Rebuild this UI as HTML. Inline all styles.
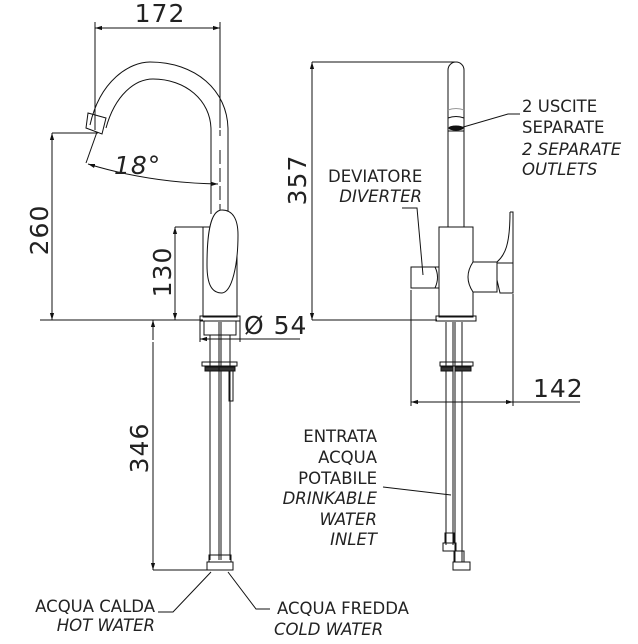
<!DOCTYPE html>
<html><head><meta charset="utf-8"><style>
html,body{margin:0;padding:0;background:#fff;}
svg{display:block;}
text{font-family:"DejaVu Sans","Liberation Sans",sans-serif;fill:#222;}
.l{font-size:16.5px;}
.i{font-style:italic;}
.d{font-size:25px;letter-spacing:1px;}
</style></head><body>
<svg width="638" height="644" viewBox="0 0 638 644" xmlns="http://www.w3.org/2000/svg">
<defs>
<marker id="a" viewBox="0 0 10 10" refX="10" refY="5" markerWidth="7" markerHeight="7" orient="auto-start-reverse"><path d="M0,2 L10,5 L0,8 z" fill="#111"/></marker>
</defs>
<g fill="none" stroke="#111" stroke-width="1">
<line x1="95" y1="28" x2="220" y2="28" marker-start="url(#a)" marker-end="url(#a)"/>
<line x1="95" y1="22" x2="95" y2="130"/>
<line x1="220" y1="22" x2="220" y2="128"/>
<path d="M90,125 C100,80 130,62 150,62 C195,62 228,90 228,130 L228,214"/>
<path d="M106,128 C115,95 135,79 153,79 C185,79 211,100 211,130 L211,214"/>
<path d="M88,113 L106,118 L102,134 L86,128 Z"/>
<line x1="220" y1="130" x2="220" y2="140" stroke-dasharray="6,4"/>
<line x1="220" y1="150" x2="220" y2="232" stroke-dasharray="14,4"/>
<line x1="97" y1="132" x2="86" y2="163"/>
<path d="M88,164 Q150,183 218,184" marker-start="url(#a)" marker-end="url(#a)"/>
<rect x="203" y="227" width="34" height="90"/>
<path d="M222,210 C232,210 238,218 238,235 C238,265 232,292 222,293 C212,293 207,285 207,265 C207,235 210,210 222,210 Z" fill="#fff"/>
<rect x="200" y="316" width="40" height="5"/>
<line x1="52" y1="133" x2="52" y2="320" marker-start="url(#a)" marker-end="url(#a)"/>
<line x1="52" y1="133" x2="98" y2="133"/>
<line x1="40" y1="320" x2="203" y2="320"/>
<line x1="175" y1="227" x2="175" y2="320" marker-start="url(#a)" marker-end="url(#a)"/>
<line x1="175" y1="227" x2="205" y2="227"/>
<line x1="200" y1="321" x2="200" y2="342"/>
<line x1="240" y1="321" x2="240" y2="342"/>
<line x1="200" y1="339" x2="300" y2="339" marker-start="url(#a)"/>
<line x1="153" y1="340" x2="153" y2="320" marker-end="url(#a)"/>
<rect x="204" y="321" width="32" height="14"/>
<line x1="210" y1="335" x2="210" y2="560"/><line x1="219" y1="322" x2="219" y2="560"/>
<line x1="221" y1="322" x2="221" y2="560"/><line x1="230" y1="335" x2="230" y2="560"/>
<rect x="202" y="362" width="35" height="4"/>
<path d="M205,367 h14 v4 h-14 z M219,367 h16 v4 h-16 z" fill="#333"/>
<rect x="229" y="371" width="4" height="30"/>
<rect x="209" y="555" width="22" height="7"/>
<rect x="207" y="562" width="26" height="8"/>
<line x1="153" y1="342" x2="153" y2="570" marker-end="url(#a)"/>
<line x1="153" y1="570" x2="209" y2="570"/>
<polyline points="211,572 173,612 158,612"/>
<polyline points="228,572 256,609 270,609"/>

<line x1="312" y1="62" x2="312" y2="320" marker-start="url(#a)" marker-end="url(#a)"/>
<line x1="312" y1="62" x2="455" y2="62"/>
<line x1="312" y1="320" x2="437" y2="320"/>
<path d="M448,227 L448,70 A8,8 0 0 1 464,70 L464,227"/>
<path d="M448,110 Q456,107 464,110" stroke="#999"/>
<path d="M448,118 Q456,115 464,118"/>
<ellipse cx="456" cy="128" rx="7" ry="2" fill="#111"/>
<line x1="448" y1="131" x2="464" y2="131"/>
<rect x="439" y="227" width="34" height="90"/>
<rect x="436" y="316" width="40" height="5"/>
<rect x="411" y="267" width="28" height="21" fill="#fff"/>
<path d="M435,267 Q440,277 435,288"/>
<path d="M473,262 L497,262 L497,292 L473,292 Q463,277 473,262 Z" fill="#fff"/>
<path d="M497,263 L513,263 L513,293 L500,293 L497,280"/>
<path d="M510,212 L513,212 L513,263"/>
<path d="M510,212 C510,245 505,255 497,262"/>
<line x1="411" y1="290" x2="411" y2="406"/>
<line x1="513" y1="294" x2="513" y2="406"/>
<line x1="411" y1="402" x2="513" y2="402" marker-start="url(#a)" marker-end="url(#a)"/>
<line x1="513" y1="402" x2="580" y2="402"/>
<line x1="446" y1="322" x2="446" y2="545"/><line x1="453" y1="322" x2="453" y2="545"/>
<line x1="455" y1="322" x2="455" y2="562"/><line x1="462" y1="322" x2="462" y2="562"/>
<rect x="440" y="362" width="33" height="4"/>
<path d="M441,367 h12 v4 h-12 z M455,367 h16 v4 h-16 z" fill="#333"/>
<rect x="445" y="533" width="9" height="10"/>
<rect x="443" y="543" width="13" height="8"/>
<rect x="454" y="551" width="10" height="11"/>
<rect x="453" y="562" width="17" height="8"/>
<polyline points="451,495 383,487"/>
<polyline points="402,208 417,208 423,275"/>
<polyline points="460,128 508,114 520,114"/>
</g>
<text class="d" x="160" y="22" text-anchor="middle">172</text>
<text class="d" transform="translate(48,230) rotate(-90)" text-anchor="middle">260</text>
<text class="d" transform="translate(171,272) rotate(-90)" text-anchor="middle">130</text>
<text class="d" transform="translate(148,448) rotate(-90)" text-anchor="middle">346</text>
<text class="d" transform="translate(306,180) rotate(-90)" text-anchor="middle">357</text>
<text class="d" x="244" y="334">Ø 54</text>
<text class="d" x="533" y="397">142</text>
<text class="d i" x="114" y="174">18°</text>
<text class="l" x="522" y="112">2 USCITE</text>
<text class="l" x="522" y="133">SEPARATE</text>
<text class="l i" x="522" y="155">2 SEPARATE</text>
<text class="l i" x="522" y="175">OUTLETS</text>
<text class="l" x="328" y="182">DEVIATORE</text>
<text class="l i" x="422" y="202" text-anchor="end">DIVERTER</text>
<text class="l" x="377" y="442" text-anchor="end">ENTRATA</text>
<text class="l" x="377" y="463" text-anchor="end">ACQUA</text>
<text class="l" x="377" y="484" text-anchor="end">POTABILE</text>
<text class="l i" x="377" y="504" text-anchor="end">DRINKABLE</text>
<text class="l i" x="377" y="525" text-anchor="end">WATER</text>
<text class="l i" x="377" y="545" text-anchor="end">INLET</text>
<text class="l" x="155" y="612" text-anchor="end">ACQUA CALDA</text>
<text class="l i" x="155" y="631" text-anchor="end">HOT WATER</text>
<text class="l" x="277" y="614">ACQUA FREDDA</text>
<text class="l i" x="274" y="635">COLD WATER</text>
</svg>
</body></html>
